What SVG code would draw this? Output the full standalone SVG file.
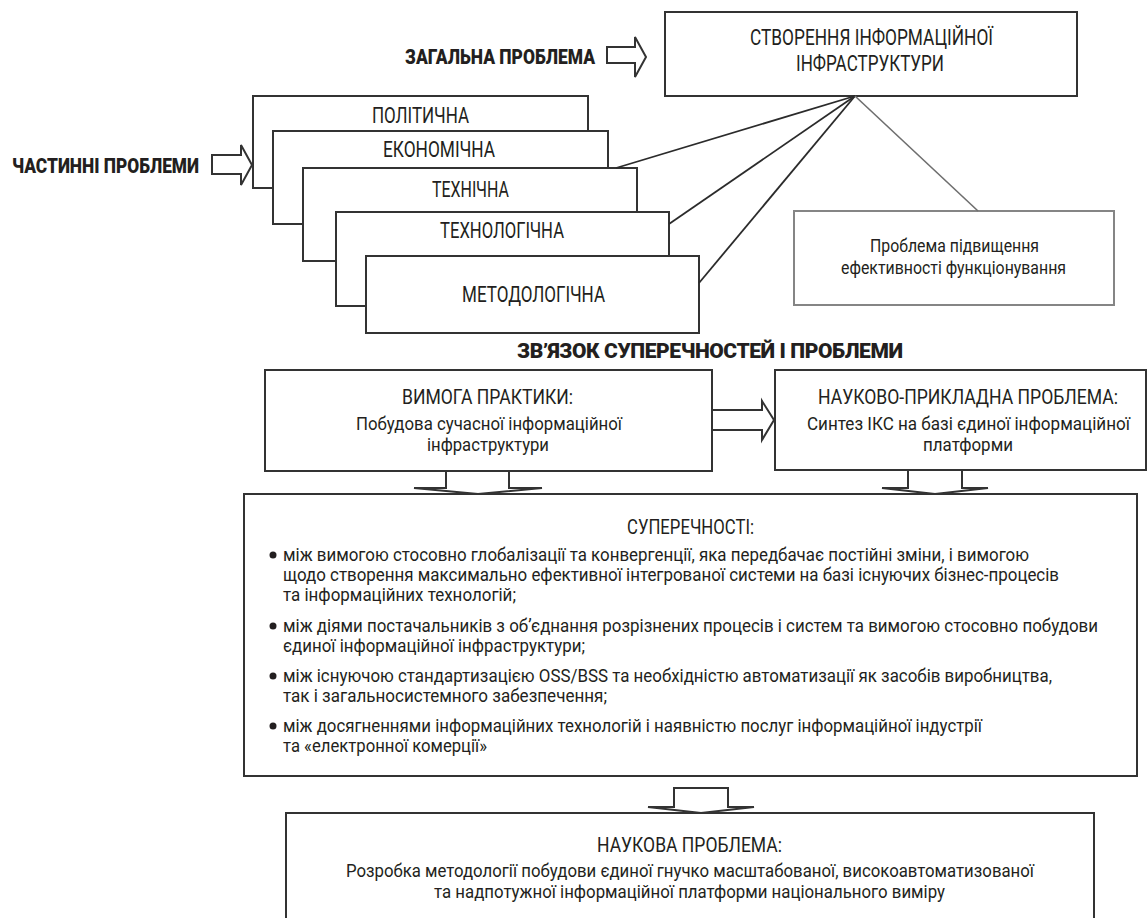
<svg xmlns="http://www.w3.org/2000/svg" width="1147" height="918" viewBox="0 0 1147 918">
  <style>
    .box { fill: #ffffff; stroke: #333333; stroke-width: 2; }
    .gbox { fill: #ffffff; stroke: #858585; stroke-width: 2; }
    .arrow { fill: #ffffff; stroke: #333333; stroke-width: 2; stroke-linejoin: miter; }
    .link { stroke: #2b2b2b; stroke-width: 1.8; fill: none; }
    .glink { stroke: #6e6e6e; stroke-width: 1.6; fill: none; }
    text { font-family: Roboto, "Liberation Sans", "DejaVu Sans", sans-serif; fill: #231f20; }
    .t { font-size: 19px; font-weight: 400; }
    .s { font-size: 18px; font-weight: 400; }
    .h { font-size: 20.5px; font-weight: 400; }
    .lbl { font-size: 21.5px; font-weight: 400; }
    .b { font-size: 21px; font-weight: 900; }
    .dot { fill: #231f20; }
  </style>

  <!-- General problem -->
  <g id="general-label">
    <text class="b" x="405" y="64" textLength="190" lengthAdjust="spacingAndGlyphs">ЗАГАЛЬНА ПРОБЛЕМА</text>
    <polygon class="arrow" points="607,47 635,47 635,37 646,57 635,77 635,63 607,63"/>
  </g>
  <g id="node-infrastructure">
    <rect class="box" x="665" y="12" width="412" height="84"/>
    <text class="lbl" x="750" y="45" textLength="243" lengthAdjust="spacingAndGlyphs">СТВОРЕННЯ ІНФОРМАЦІЙНОЇ</text>
    <text class="lbl" x="796" y="71" textLength="148" lengthAdjust="spacingAndGlyphs">ІНФРАСТРУКТУРИ</text>
  </g>

  <!-- Partial problems: stacked cards -->
  <g id="partial-label">
    <text class="b" x="12" y="173" textLength="187" lengthAdjust="spacingAndGlyphs">ЧАСТИННІ ПРОБЛЕМИ</text>
    <polygon class="arrow" points="212,155 241,155 241,145 252,165 241,185 241,174 212,174"/>
  </g>
  <g id="node-political">
    <rect class="box" x="253" y="96" width="335" height="92"/>
    <text class="lbl" x="372" y="123" textLength="97" lengthAdjust="spacingAndGlyphs">ПОЛІТИЧНА</text>
  </g>
  <g id="node-economic">
    <rect class="box" x="273" y="131" width="335" height="93"/>
    <text class="lbl" x="383" y="157" textLength="112" lengthAdjust="spacingAndGlyphs">ЕКОНОМІЧНА</text>
  </g>
  <g id="node-technical">
    <rect class="box" x="303" y="168" width="334" height="93"/>
    <text class="lbl" x="432" y="197" textLength="77" lengthAdjust="spacingAndGlyphs">ТЕХНІЧНА</text>
  </g>
  <g id="node-technological">
    <rect class="box" x="336" y="212" width="333" height="94"/>
    <text class="lbl" x="440" y="238" textLength="124" lengthAdjust="spacingAndGlyphs">ТЕХНОЛОГІЧНА</text>
  </g>
  <g id="node-methodological">
    <rect class="box" x="366" y="256" width="333" height="77"/>
    <text class="lbl" x="462" y="302" textLength="143" lengthAdjust="spacingAndGlyphs">МЕТОДОЛОГІЧНА</text>
  </g>

  <g id="node-efficiency">
    <rect class="gbox" x="794" y="211" width="320" height="94"/>
    <text class="t" x="870" y="252" textLength="169" lengthAdjust="spacingAndGlyphs">Проблема підвищення</text>
    <text class="t" x="841" y="274" textLength="225" lengthAdjust="spacingAndGlyphs">ефективності функціонування</text>
  </g>

  <!-- Connectors -->
  <g id="connectors">
    <line class="link" x1="855" y1="96" x2="616" y2="168"/>
    <line class="link" x1="855" y1="96" x2="669" y2="224"/>
    <line class="link" x1="855" y1="96" x2="699" y2="283"/>
    <line class="glink" x1="855" y1="96" x2="978" y2="211"/>
    <polygon class="arrow" points="712,410 762,410 762,401 774,420 762,440 762,430 712,430"/>
    <polygon class="arrow" points="446,471 446,488 414,488 478,494 542,488 509,488 509,471"/>
    <polygon class="arrow" points="908,470 908,488 882,488 935,494 988,488 962,488 962,470"/>
    <polygon class="arrow" points="674,788 674,807 648,807 701,813 754,807 728,807 728,788"/>
  </g>

  <!-- Relation of contradictions and problems -->
  <g id="section-title">
    <text class="b" x="517" y="358" textLength="386" lengthAdjust="spacing">ЗВ’ЯЗОК СУПЕРЕЧНОСТЕЙ І ПРОБЛЕМИ</text>
  </g>

  <g id="node-practice">
    <rect class="box" x="265" y="370" width="447" height="101"/>
    <text class="h" x="402" y="404" textLength="171" lengthAdjust="spacingAndGlyphs">ВИМОГА ПРАКТИКИ:</text>
    <text class="t" x="356" y="430" textLength="266" lengthAdjust="spacingAndGlyphs">Побудова сучасної інформаційної</text>
    <text class="t" x="427" y="451" textLength="122" lengthAdjust="spacingAndGlyphs">інфраструктури</text>
  </g>

  <g id="node-applied">
    <rect class="box" x="775" y="370" width="371" height="100"/>
    <text class="h" x="818" y="404" textLength="300" lengthAdjust="spacingAndGlyphs">НАУКОВО-ПРИКЛАДНА ПРОБЛЕМА:</text>
    <text class="t" x="807" y="430" textLength="323" lengthAdjust="spacingAndGlyphs">Синтез ІКС на базі єдиної інформаційної</text>
    <text class="t" x="923" y="451" textLength="90" lengthAdjust="spacingAndGlyphs">платформи</text>
  </g>

  <g id="node-contradictions">
    <rect class="box" x="244" y="494" width="893" height="282"/>
    <text class="h" x="627" y="534" textLength="127" lengthAdjust="spacingAndGlyphs">СУПЕРЕЧНОСТІ:</text>
    <circle class="dot" cx="273" cy="555" r="3.5"/>
    <text class="s" x="283" y="561" textLength="746" lengthAdjust="spacingAndGlyphs">між вимогою стосовно глобалізації та конвергенції, яка передбачає постійні зміни, і вимогою</text>
    <text class="s" x="283" y="581" textLength="776" lengthAdjust="spacingAndGlyphs">щодо створення максимально ефективної інтегрованої системи на базі існуючих бізнес-процесів</text>
    <text class="s" x="283" y="601" textLength="233" lengthAdjust="spacingAndGlyphs">та інформаційних технологій;</text>
    <circle class="dot" cx="273" cy="626" r="3.5"/>
    <text class="s" x="283" y="632" textLength="815" lengthAdjust="spacingAndGlyphs">між діями постачальників з об’єднання розрізнених процесів і систем та вимогою стосовно побудови</text>
    <text class="s" x="283" y="652" textLength="302" lengthAdjust="spacingAndGlyphs">єдиної інформаційної інфраструктури;</text>
    <circle class="dot" cx="273" cy="676" r="3.5"/>
    <text class="s" x="283" y="682" textLength="769" lengthAdjust="spacingAndGlyphs">між існуючою стандартизацією OSS/BSS та необхідністю автоматизації як засобів виробництва,</text>
    <text class="s" x="283" y="702" textLength="324" lengthAdjust="spacingAndGlyphs">так і загальносистемного забезпечення;</text>
    <circle class="dot" cx="273" cy="726" r="3.5"/>
    <text class="s" x="283" y="732" textLength="699" lengthAdjust="spacingAndGlyphs">між досягненнями інформаційних технологій і наявністю послуг інформаційної індустрії</text>
    <text class="s" x="283" y="752" textLength="204" lengthAdjust="spacingAndGlyphs">та «електронної комерції»</text>
  </g>

  <g id="node-scientific">
    <rect class="box" x="286" y="813" width="808" height="115"/>
    <text class="h" x="597" y="852" textLength="185" lengthAdjust="spacingAndGlyphs">НАУКОВА ПРОБЛЕМА:</text>
    <text class="s" x="346" y="877" textLength="688" lengthAdjust="spacingAndGlyphs">Розробка методології побудови єдиної гнучко масштабованої, високоавтоматизованої</text>
    <text class="s" x="434" y="898" textLength="511" lengthAdjust="spacingAndGlyphs">та надпотужної інформаційної платформи національного виміру</text>
  </g>
</svg>
